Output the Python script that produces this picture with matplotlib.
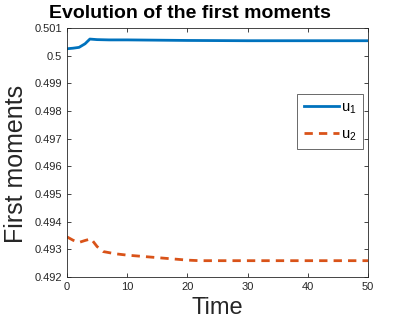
import matplotlib
matplotlib.use("Agg")
import matplotlib.pyplot as plt
import numpy as np

plt.rcParams['font.family'] = ['Liberation Sans', 'DejaVu Sans']
plt.rcParams['mathtext.fontset'] = 'custom'
plt.rcParams['mathtext.rm'] = 'Liberation Sans'

t = [0, 1, 2, 3, 3.8, 5, 7, 10, 15, 20, 30, 40, 50]
u1 = [0.50025, 0.50027, 0.50030, 0.50043, 0.50060, 0.50058, 0.50057, 0.50057, 0.50056, 0.50055, 0.50054, 0.50054, 0.50054]
t2 = [0, 1, 2, 3, 4, 5, 6, 8, 10, 15, 20, 22, 30, 40, 50]
u2 = [0.49345, 0.49333, 0.49325, 0.49332, 0.49338, 0.49310, 0.49292, 0.49284, 0.49279, 0.49270, 0.49261, 0.49259, 0.49259, 0.49259, 0.49259]

xticks = [0, 10, 20, 30, 40, 50]
yticks = [0.492, 0.493, 0.494, 0.495, 0.496, 0.497, 0.498, 0.499, 0.5, 0.501]
ytick_labels = ['0.492', '0.493', '0.494', '0.495', '0.496', '0.497', '0.498', '0.499', '0.5', '0.501']

fig = plt.figure(figsize=(4.07, 3.26), dpi=100)
ax = fig.add_axes([67/407, 1 - 277/326, (368-67)/407, (277-28)/326])

ax.plot(t, u1, color='#0072BD', lw=2, label=r'u$_{\mathregular{1}}$')
ax.plot(t2, u2, color='#D95319', lw=2, ls=(0, (3, 2.2)), label=r'u$_{\mathregular{2}}$')

ax.set_xlim(0, 50)
ax.set_ylim(0.492, 0.501)
ax.set_xticks(xticks)
ax.set_yticks(yticks)
ax.set_yticklabels(ytick_labels)
ax.tick_params(direction='in', top=True, right=True, labelsize=8, length=3, colors='#262626', width=0.6)
for s in ax.spines.values():
    s.set_color('#262626')
    s.set_linewidth(0.6)

ax.set_xlabel('Time', fontsize=17, color='#262626', labelpad=4)
ax.set_ylabel('First moments', fontsize=18, color='#262626')
ax.yaxis.set_label_coords(-0.13, 0.454)
ax.set_title('Evolution of the first moments', fontsize=14, fontweight='bold', x=0.41, pad=7)

leg = ax.legend(loc='upper right', bbox_to_anchor=(0.985, 0.735), fontsize=10.5, fancybox=False,
                edgecolor='#262626', handlelength=2.4, borderpad=0.45, labelspacing=0.75, handletextpad=0.2,
                borderaxespad=0)
leg.get_frame().set_linewidth(0.6)

fig.savefig('out.png', dpi=100)
